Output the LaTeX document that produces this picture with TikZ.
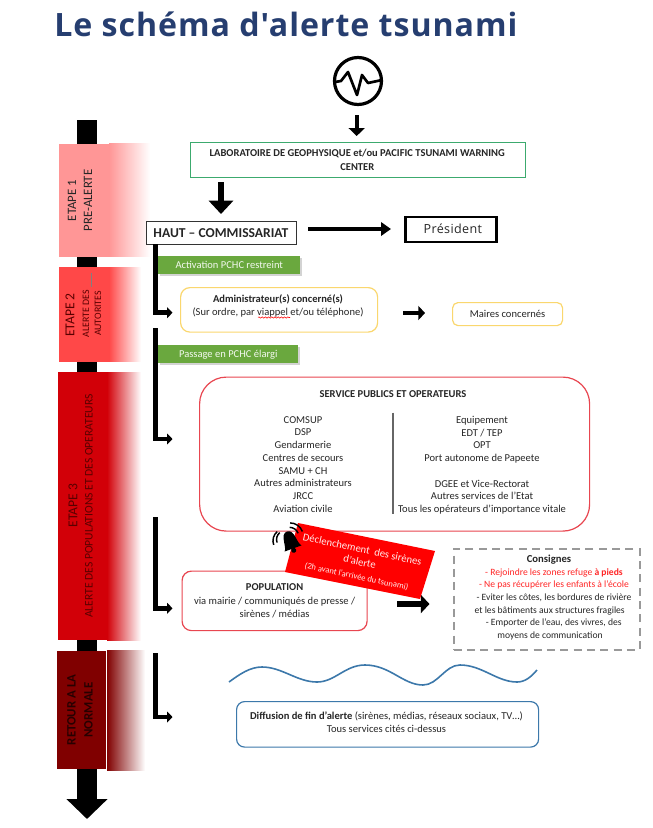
\documentclass[tikz,border=0pt]{standalone}
\usepackage{fontspec}
\setmainfont{Carlito}
\newfontfamily\titlefont[LetterSpace=3]{Open Sans}
\usetikzlibrary{arrows.meta,positioning,shadows,decorations.pathmorphing}
\definecolor{titleblue}{RGB}{38,62,112}
\definecolor{etapeone}{RGB}{255,150,150}
\definecolor{etapetwo}{RGB}{255,72,72}
\definecolor{etapethree}{RGB}{210,0,8}
\definecolor{etapefour}{RGB}{128,0,0}
\definecolor{boxgreen}{RGB}{60,170,110}
\definecolor{boxyellow}{RGB}{250,215,110}
\definecolor{boxred}{RGB}{232,70,80}
\definecolor{boxblue}{RGB}{60,120,170}
\definecolor{barleaf}{RGB}{106,168,62}
\definecolor{etapedark}{RGB}{90,0,0}
\tikzset{
  txt/.style={font=\fontsize{7.9}{9.55}\selectfont,align=center,inner sep=0pt,text=black!85},
  frame/.style={draw,fill=white,align=center,inner sep=0pt,font=\fontsize{7.9}{10.3}\selectfont,text=black!85},
  consigne/.style={txt,font=\fontsize{7.2}{9.5}\selectfont},
  etapetxt/.style={rotate=90,align=center,inner sep=0pt,text=black!85},
  leaf/.style={fill=barleaf,inner sep=0pt,minimum height=18*0.75pt,font=\fontsize{7.9}{8}\selectfont,text=white!92!barleaf,drop shadow={opacity=0.35,shadow xshift=1pt,shadow yshift=-1pt}},
  elbow/.style={draw=black,line width=3.6pt,-{Triangle[width=8pt,length=4pt]}},
}
\begin{document}
\begin{tikzpicture}[x=0.75pt,y=0.75pt,yscale=-1,xscale=1]
\useasboundingbox (0,0) rectangle (653,828);

\node [anchor=west,inner sep=0pt,text=titleblue,font=\titlefont\bfseries\fontsize{24.1}{26}\selectfont] (title) at (54,24) {Le sch\'ema d'alerte tsunami};

% main time line
\coordinate (lineTop) at (87,120);
\coordinate (lineEnd) at (87,819);
\draw [line width=15pt,-{Triangle[width=30pt,length=15pt]}] (lineTop) -- (lineEnd);

% etapes
\fill [etapeone] (59,144) rectangle (110,257);
\shade [left color=etapeone,right color=white] (109,143) rectangle (150,256);
\fill [etapetwo] (59,267) rectangle (110,362);
\shade [left color=etapetwo,right color=white] (109,267) rectangle (141,361);
\fill [etapethree] (58,372) rectangle (108,640);
\shade [left color=etapethree,right color=white] (107,372) rectangle (141,640);
\fill [etapefour] (57,651) rectangle (105.5,769);
\shade [left color=etapefour,right color=white] (107,650) rectangle (145,770);

\node [etapetxt,font=\fontsize{9.6}{12}\selectfont] (etape1) at (80,200.5) {ETAPE 1\\PRE-ALERTE};
\node [etapetxt,text=etapedark,font=\fontsize{10.2}{10.5}\selectfont] (etape2) at (70,315) {ETAPE 2};
\node [etapetxt,text=etapedark,font=\fontsize{7.4}{9}\selectfont] (etape2b) at (92,313.5) {ALERTE DES\\AUTORITES};
\draw [black!50,line width=0.6pt] (91,273) -- (91,287);
\node [etapetxt,text=etapedark,font=\fontsize{10.2}{10.5}\selectfont] (etape3) at (73,505.5) {ETAPE 3};
\node [etapetxt,text=etapedark,font=\fontsize{8.7}{9}\selectfont] (etape3b) at (89,506) {ALERTE DES POPULATIONS ET DES OPERATEURS};
\node [etapetxt,text=black!70!etapefour,font=\fontsize{9.6}{12.8}\selectfont\bfseries] (etape4) at (80,710) {RETOUR A LA\\NORMALE};

% sismo icon
\draw [line width=2.4pt] (358,81) circle (23.5);
\draw [line width=2pt,line join=round] (335,82) -- (341,81) -- (348,72) -- (357,95) -- (362,75) -- (368,83) -- (382,80);
\coordinate (sismoEnd) at (356.7,115);
\coordinate (sismoStart) at (356.7,136);

% top boxes
\node [frame,draw=boxgreen,minimum width=335*0.75pt,minimum height=34.5*0.75pt,anchor=north west,font=\fontsize{7.9}{10.5}\selectfont\bfseries] (labo) at (189.5,142) {LABORATOIRE DE GEOPHYSIQUE et/ou PACIFIC TSUNAMI WARNING\\CENTER};
\draw [line width=3pt,-{Triangle[width=12pt,length=6pt]}] (sismoEnd) -- (sismoStart);

\node [frame,draw=black!80,line width=0.6pt,minimum width=150*0.75pt,minimum height=23*0.75pt,anchor=north west,font=\fontsize{10.2}{11}\selectfont\bfseries] (haut) at (145.5,221) {HAUT -- COMMISSARIAT};
\coordinate (labStart) at (221,182);
\draw [line width=5pt,-{Triangle[width=18pt,length=10pt]}] (labStart) -- (221,214);

\node [frame,draw=black,line width=2pt,minimum width=91*0.75pt,minimum height=25*0.75pt,anchor=north west,font=\titlefont\fontsize{9.4}{10}\selectfont] (pres) at (404,215.5) {\raisebox{1.5pt}{\hspace{3pt}Pr\'esident}};
\coordinate (hautEnd) at (308,229);
\draw [line width=2.5pt,-{Triangle[width=10pt,length=7.5pt]}] (hautEnd) -- (391,229);

% step 2
\node [leaf,minimum width=142*0.75pt,anchor=north west] (restreint) at (158,256) {Activation PCHC restreint};
\node [frame,draw=boxyellow,line width=0.9pt,rounded corners=7pt,minimum width=197*0.75pt,minimum height=44.5*0.75pt,anchor=north west] (admin) at (180,287) {};
\node [txt,font=\fontsize{7.9}{10.3}\selectfont] (adminT) at (278,306) {\textbf{Administrateur(s) concern\'e(s)}\\(Sur ordre, par viappel et/ou t\'el\'ephone)};
\draw [red,line width=0.4pt,decorate,decoration={snake,amplitude=0.5pt,segment length=2.4pt}] (258,317.5) -- (290,317.5);
\node [frame,draw=boxyellow,line width=0.9pt,rounded corners=4pt,minimum width=110*0.75pt,minimum height=23*0.75pt,anchor=north west] (maires) at (452,302) {Maires concern\'es};
\draw [line width=3.5pt,-{Triangle[width=10.5pt,length=5pt]}] (403,313) -- (425,313);
\coordinate (hautFoot) at (155.5,244);
\draw [elbow] (hautFoot) -- (155.5,312.7) -- (172.5,312.7);

% step 3
\node [leaf,minimum width=140*0.75pt,anchor=north west] (elargi) at (158,345) {Passage en PCHC \'elargi};
\node [frame,draw=boxred,line width=0.9pt,rounded corners=20pt,minimum width=390*0.75pt,minimum height=154*0.75pt,anchor=north west] (service) at (199,376.5) {};
\node [txt,font=\fontsize{7.9}{9.55}\selectfont\bfseries] (serviceT) at (393,394) {SERVICE PUBLICS ET OPERATEURS};
\node [txt,anchor=north] (serviceL) at (303,416) {COMSUP\\DSP\\Gendarmerie\\Centres de secours\\SAMU + CH\\Autres administrateurs\\JRCC\\Aviation civile};
\node [txt,anchor=north] (serviceR) at (482,416) {Equipement\\EDT / TEP\\OPT\\Port autonome de Papeete\\[9.55pt]DGEE et Vice-Rectorat\\Autres services de l'Etat\\Tous les op\'erateurs d'importance vitale};
\coordinate (sepTop) at (393,412.5);
\coordinate (sepEnd) at (393,514);
\draw [black!60,line width=1pt] (sepTop) -- (sepEnd);
\coordinate (elargiTop) at (155.5,328);
\draw [elbow] (elargiTop) -- (155.5,439) -- (172.5,439);

% population
\node [frame,draw=boxred,line width=0.9pt,rounded corners=7pt,minimum width=185*0.75pt,minimum height=59.5*0.75pt,anchor=north west] (popu) at (181.5,570.5) {\textbf{POPULATION}\\via mairie / communiqu\'es de presse /\\sir\`enes / m\'edias};
\coordinate (popuTop) at (155.5,517);
\draw [elbow] (popuTop) -- (155.5,608.3) -- (172.5,608.3);
\draw [line width=4pt,-{Triangle[width=13.5pt,length=6.5pt]}] (397,604) -- (429.5,604);

% sirene
\fill [red] (298,523) -- (435,551) -- (420,599) -- (285,572) -- cycle;
\node [rotate=-12,align=center,text=white!92!red,inner sep=0pt,font=\fontsize{8}{9.6}\selectfont] (sirene) at (359.5,563) {D\'eclenchement\ \ des sir\`enes\\d'alerte\\[1pt]{\fontsize{6.4}{8}\selectfont (2h avant l'arriv\'ee du tsunami)}};
\begin{scope}[shift={(290,540)},rotate=-20]
\fill (-9,9) .. controls (-5,5) and (-8,-9) .. (0,-9) .. controls (8,-9) and (5,5) .. (9,9) -- cycle;
\fill (0,11) circle (2.5);
\draw [line width=1.1pt] (-13,-2) arc (180:250:9);
\draw [line width=1.1pt] (-17,-1) arc (180:250:12);
\draw [line width=1.1pt] (4,-12) arc (-70:0:9);
\draw [line width=1.1pt] (6,-16) arc (-70:0:13);
\end{scope}

% consignes
\node [frame,draw=black!40,line width=1.5pt,dash pattern=on 6pt off 4pt,minimum width=186*0.75pt,minimum height=101*0.75pt,anchor=north west] (consignes) at (452.5,547.5) {};
\node [txt,font=\fontsize{8}{9.5}\selectfont\bfseries] (consT) at (549,560) {Consignes};
\node [consigne,text=red!85!white] (cons1) at (554,572.7) {- Rejoindre les zones refuge \textbf{\`a pieds}};
\node [consigne,text=red!85!white] (cons2) at (554,585) {- Ne pas r\'ecup\'erer les enfants \`a l'\'ecole};
\node [consigne] (cons3) at (554,597.7) {- Eviter les c\^otes, les bordures de rivi\`ere};
\node [consigne] (cons4) at (549.7,610.7) {et les b\^atiments aux structures fragiles};
\node [consigne] (cons5) at (553.7,623.3) {- Emporter de l'eau, des vivres, des};
\node [consigne] (cons6) at (550,636) {moyens de communication};

% retour
\coordinate (retourTop) at (155.5,653);
\draw [elbow] (retourTop) -- (155.5,717) -- (172.5,717);
\draw [boxblue,line width=1.2pt] (229,682) .. controls (240,674) and (250,667) .. (262,667) .. controls (282,667) and (297,682) .. (317,682) .. controls (335,682) and (345,665) .. (365,665) .. controls (390,665) and (403,685) .. (423,685) .. controls (438,685) and (445,665) .. (460,665) .. controls (482,665) and (497,682) .. (517,682) .. controls (525,682) and (531,677) .. (537,670);
\node [frame,draw=boxblue,line width=0.9pt,rounded corners=6pt,minimum width=302*0.75pt,minimum height=45.5*0.75pt,anchor=north west] (fin) at (236,701) {};
\node [txt] (finT) at (386.5,722) {\textbf{Diffusion de fin d'alerte} (sir\`enes, m\'edias, r\'eseaux sociaux, TV\ldots)\\Tous services cit\'es ci-dessus};

\end{tikzpicture}
\end{document}
